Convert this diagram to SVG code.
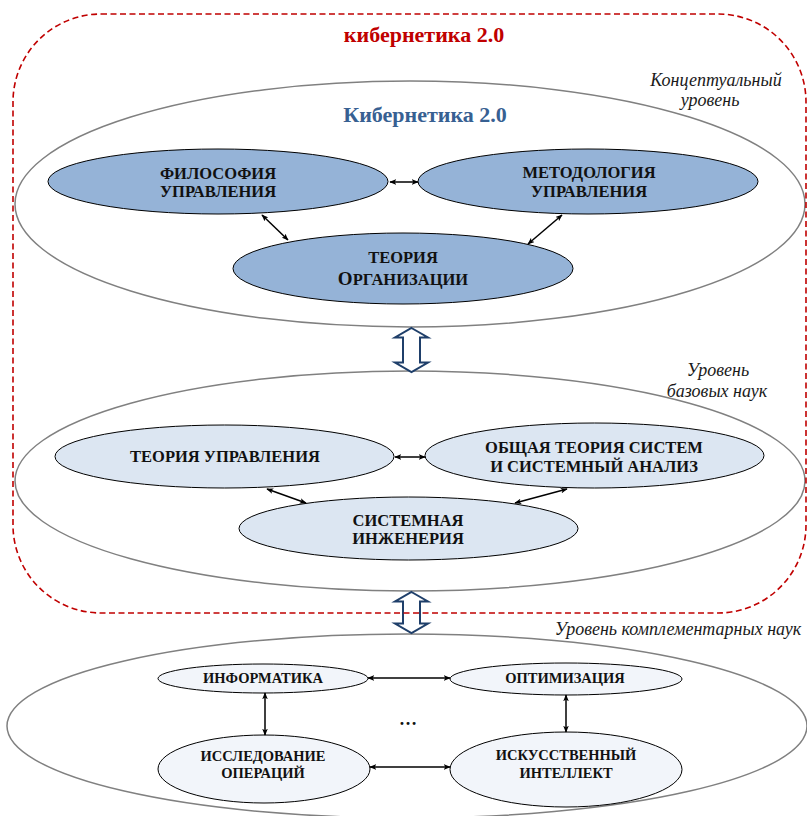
<svg xmlns="http://www.w3.org/2000/svg" width="807" height="816" viewBox="0 0 807 816">
  <style>
    .lvl { fill: none; stroke: #808080; stroke-width: 1.5; }
    .n1 { fill: #95B3D7; stroke: #000; stroke-width: 1; }
    .n2 { fill: #DCE6F2; stroke: #000; stroke-width: 1; }
    .n3 { fill: #F2F5FA; stroke: #000; stroke-width: 1; }
    .lbl { font-family: "Liberation Serif", "Times New Roman", serif; font-weight: bold; fill: #111; text-anchor: middle; }
    .t1 { font-size: 16.5px; }
    .t3 { font-size: 14.5px; }
    .cap { font-family: "Liberation Serif", "Times New Roman", serif; font-style: italic; font-size: 18px; fill: #1a1a1a; text-anchor: middle; }
    .head { font-family: "Liberation Serif", "Times New Roman", serif; font-weight: bold; font-size: 22px; text-anchor: middle; }
    .link { fill: none; stroke: #000; stroke-width: 1.5; marker-start: url(#tip); marker-end: url(#tip); }
    .bigarrow { fill: #fff; stroke: #1F3F6A; stroke-width: 2; stroke-linejoin: miter; }
    .frame { fill: none; stroke: #C00000; stroke-width: 1.6; stroke-dasharray: 6 3.5; }
  </style>
  <defs>
    <marker id="tip" viewBox="0 0 10 8" refX="9" refY="4" markerWidth="7" markerHeight="5.6" markerUnits="userSpaceOnUse" orient="auto-start-reverse">
      <path d="M0,0 L10,4 L0,8 L2.5,4 Z" fill="#000"/>
    </marker>
  </defs>

  <!-- level ellipses -->
  <g id="level-conceptual">
    <ellipse class="lvl" cx="410" cy="204" rx="395" ry="123"/>
    <text class="cap" x="716" y="86" font-size="18.5">Концептуальный</text>
    <text class="cap" x="710" y="106" font-size="18.5">уровень</text>
    <text class="head" x="425" y="122" fill="#376092">Кибернетика 2.0</text>
  </g>
  <g id="level-basic">
    <ellipse class="lvl" cx="410" cy="481" rx="395" ry="110"/>
    <text class="cap" x="718" y="376">Уровень</text>
    <text class="cap" x="717" y="397">базовых наук</text>
  </g>
  <g id="level-complementary">
    <ellipse class="lvl" cx="407" cy="726" rx="400" ry="92"/>
    <text class="cap" x="678" y="635">Уровень комплементарных наук</text>
  </g>

  <!-- conceptual level nodes -->
  <g id="node-philosophy">
    <ellipse class="n1" cx="218" cy="181.5" rx="170" ry="32.5"/>
    <text class="lbl t1" x="218" y="179">ФИЛОСОФИЯ</text>
    <text class="lbl t1" x="218" y="197">УПРАВЛЕНИЯ</text>
  </g>
  <g id="node-methodology">
    <ellipse class="n1" cx="588" cy="181.5" rx="170" ry="32.5"/>
    <text class="lbl t1" x="589" y="178">МЕТОДОЛОГИЯ</text>
    <text class="lbl t1" x="589" y="197">УПРАВЛЕНИЯ</text>
  </g>
  <g id="node-organization">
    <ellipse class="n1" cx="403" cy="268.5" rx="170" ry="35.5"/>
    <text class="lbl t1" x="403" y="263">ТЕОРИЯ</text>
    <text class="lbl t1" x="403" y="285"><tspan font-size="19">О</tspan>РГАНИЗАЦИИ</text>
  </g>

  <!-- basic sciences nodes -->
  <g id="node-control-theory">
    <ellipse class="n2" cx="224.5" cy="456.5" rx="169.5" ry="31.5"/>
    <text class="lbl t1" x="225" y="462">ТЕОРИЯ УПРАВЛЕНИЯ</text>
  </g>
  <g id="node-systems-theory">
    <ellipse class="n2" cx="594.5" cy="455.5" rx="169.5" ry="32.5"/>
    <text class="lbl t1" x="594" y="453">ОБЩАЯ ТЕОРИЯ СИСТЕМ</text>
    <text class="lbl t1" x="594" y="472">И СИСТЕМНЫЙ АНАЛИЗ</text>
  </g>
  <g id="node-systems-engineering">
    <ellipse class="n2" cx="408.5" cy="528.5" rx="169.5" ry="31.5"/>
    <text class="lbl t1" x="408" y="526">СИСТЕМНАЯ</text>
    <text class="lbl t1" x="408" y="544">ИНЖЕНЕРИЯ</text>
  </g>

  <!-- complementary sciences nodes -->
  <g id="node-informatics">
    <ellipse class="n3" cx="263" cy="678.5" rx="105" ry="14.5"/>
    <text class="lbl t3" x="263" y="683">ИНФОРМАТИКА</text>
  </g>
  <g id="node-optimization">
    <ellipse class="n3" cx="566" cy="679" rx="116" ry="16"/>
    <text class="lbl t3" x="565" y="683">ОПТИМИЗАЦИЯ</text>
  </g>
  <g id="node-operations-research">
    <ellipse class="n3" cx="264" cy="769" rx="106" ry="34"/>
    <text class="lbl t3" x="263" y="761">ИССЛЕДОВАНИЕ</text>
    <text class="lbl t3" x="263" y="778">ОПЕРАЦИЙ</text>
  </g>
  <g id="node-ai">
    <ellipse class="n3" cx="566" cy="769.5" rx="116" ry="37.5"/>
    <text class="lbl t3" x="566" y="760">ИСКУССТВЕННЫЙ</text>
    <text class="lbl t3" x="566" y="778">ИНТЕЛЛЕКТ</text>
  </g>
  <g id="ellipsis">
    <text class="lbl" x="408" y="725" font-size="18">…</text>
  </g>

  <!-- connectors -->
  <g id="connectors">
    <line class="link" x1="390" y1="182" x2="418" y2="182"/>
    <line class="link" x1="262" y1="215" x2="288" y2="240"/>
    <line class="link" x1="562" y1="215" x2="528" y2="244"/>

    <line class="link" x1="395" y1="457" x2="425" y2="457"/>
    <line class="link" x1="267" y1="489" x2="306" y2="503"/>
    <line class="link" x1="567" y1="489" x2="515" y2="503"/>

    <line class="link" x1="368" y1="678" x2="450" y2="678"/>
    <line class="link" x1="370" y1="767" x2="450" y2="767"/>
    <line class="link" x1="265" y1="693" x2="265" y2="735"/>
    <line class="link" x1="566" y1="695" x2="566" y2="732"/>

    <!-- hollow double arrows between levels -->
    <path class="bigarrow" d="M411.5,328 L428,337.5 L420,337.5 L420,362.5 L428,362.5 L411.5,372 L395,362.5 L403,362.5 L403,337.5 L395,337.5 Z"/>
    <path class="bigarrow" d="M411.5,592 L428,601.5 L420,601.5 L420,623.5 L428,623.5 L411.5,633 L395,623.5 L403,623.5 L403,601.5 L395,601.5 Z"/>
  </g>

  <!-- dashed boundary of cybernetics 2.0 -->
  <g id="frame-cybernetics">
    <rect class="frame" x="13" y="14" width="793" height="599" rx="88" ry="88"/>
    <text class="head" x="424" y="42" fill="#C00000">кибернетика 2.0</text>
  </g>
</svg>
